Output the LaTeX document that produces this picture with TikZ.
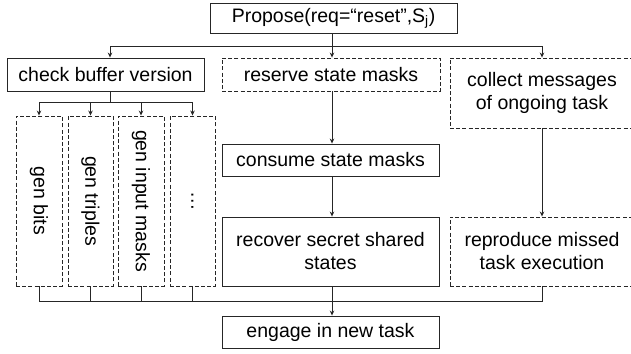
\documentclass[tikz,border=0pt]{standalone}
\usepackage{fontspec}
\setmainfont{Liberation Sans}
\usetikzlibrary{arrows.meta}
\tikzset{
  box/.style={draw=black!85, line width=0.9pt, inner sep=0pt, align=center,
    font=\fontsize{19.5}{23}\selectfont},
  dbox/.style={box, dash pattern=on 4pt off 2.2pt},
  conn/.style={draw=black!85, line width=0.9pt},
  arr/.style={conn, -{Stealth[length=5pt,width=4.5pt]}},
}
\begin{document}
\begin{tikzpicture}[x=1pt,y=-1pt]
\useasboundingbox (0,0) rectangle (631,353);
% nodes
\node[box, minimum width=247pt, minimum height=30pt] (prop) at (333.5,18) {Propose(req=“reset”,S\textsubscript{j})};
\node[box, minimum width=197pt, minimum height=33pt] (check) at (105.5,74.5) {check buffer version};
\node[dbox, minimum width=218pt, minimum height=33pt] (reserve) at (331,74.5) {reserve state masks};
\node[dbox, minimum width=184pt, minimum height=70pt] (collect) at (542,93) {collect messages\\of ongoing task};
\node[dbox, minimum width=46pt, minimum height=170pt] (g1) at (39,201) {\rotatebox{-90}{gen bits}};
\node[dbox, minimum width=45pt, minimum height=170pt] (g2) at (90.5,201) {\rotatebox{-90}{gen triples}};
\node[dbox, minimum width=46pt, minimum height=170pt] (g3) at (141,201) {\rotatebox{-90}{gen input masks}};
\node[dbox, minimum width=45pt, minimum height=170pt] (g4) at (192.5,201) {\rotatebox{-90}{…}};
\node[box, minimum width=217pt, minimum height=32pt] (consume) at (330.5,160) {consume state masks};
\node[box, minimum width=217pt, minimum height=69pt] (recover) at (330.5,251.5) {recover secret shared\\states};
\node[dbox, minimum width=184pt, minimum height=69pt] (reproduce) at (542,251.5) {reproduce missed\\task execution};
\node[box, minimum width=217pt, minimum height=32pt] (engage) at (330.5,332) {engage in new task};
% coordinates
\coordinate (j1) at (332,46);
\coordinate (j2) at (110,102);
\coordinate (jb) at (332,301);
% top fan-out
\draw[conn] (prop.south -| j1) -- (j1);
\draw[arr] (j1) -| ([xshift=4.5pt]check.north);
\draw[arr] (j1) -- (reserve.north -| j1);
\draw[arr] (j1) -| (collect.north);
% check buffer fan-out
\draw[conn] (check.south -| j2) -- (j2);
\draw[arr] (j2) -| (g1.north);
\draw[arr] (j2) -| (g2.north);
\draw[arr] (j2) -| (g3.north);
\draw[arr] (j2) -| (g4.north);
% middle column
\draw[arr] (reserve.south -| j1) -- (consume.north -| j1);
\draw[arr] (consume.south -| j1) -- (recover.north -| j1);
% right column
\draw[arr] (collect.south) -- (reproduce.north);
% bottom join
\draw[conn] (g1.south) |- (jb);
\draw[conn] (g2.south) |- (jb);
\draw[conn] (g3.south) |- (jb);
\draw[conn] (g4.south) |- (jb);
\draw[conn] (reproduce.south) |- (jb);
\draw[conn] (recover.south -| jb) -- (jb);
\draw[arr] (jb) -- (engage.north -| jb);
\end{tikzpicture}
\end{document}
